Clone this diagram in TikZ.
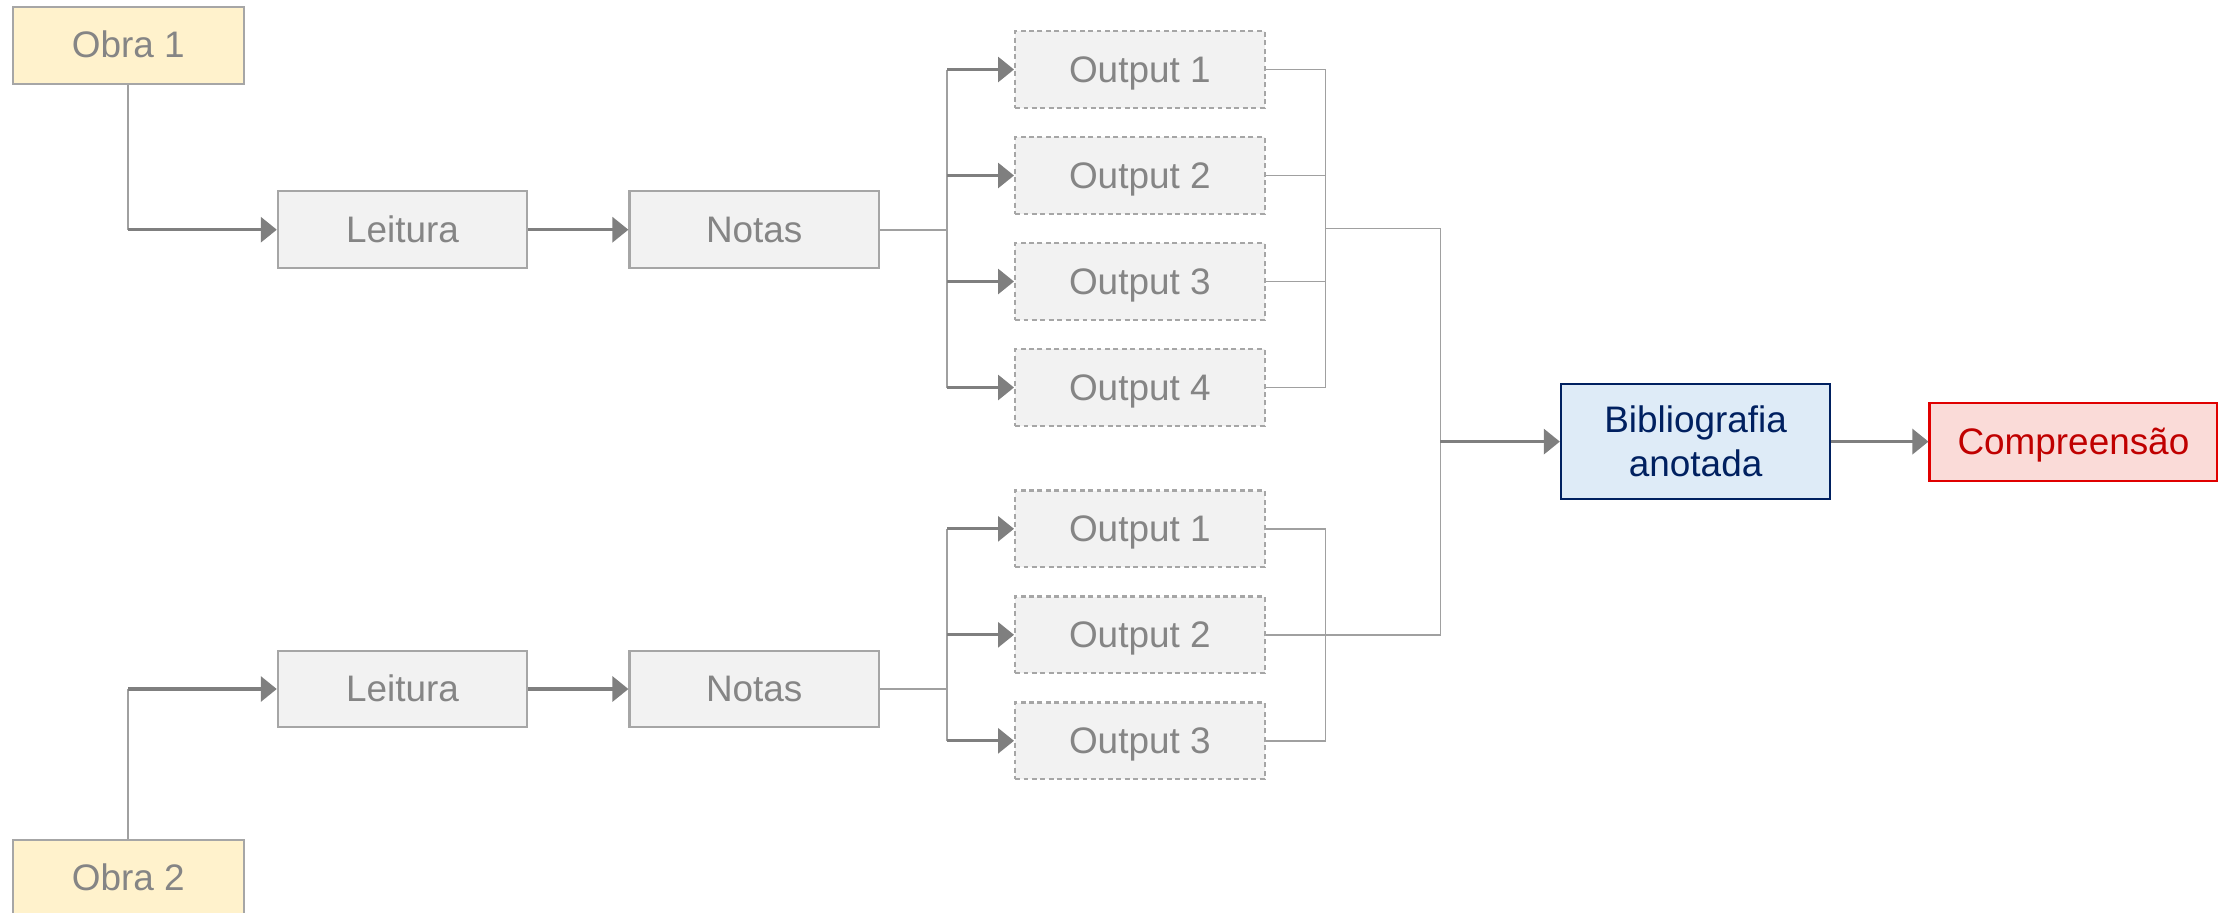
\documentclass[tikz,border=0pt]{standalone}
\usepackage{fontspec}
\setmainfont{Liberation Sans}
\usetikzlibrary{arrows.meta,positioning}
\definecolor{txtgray}{HTML}{858585}
\definecolor{boxgray}{HTML}{A6A6A6}
\definecolor{linegray}{HTML}{A0A0A0}
\definecolor{arrowgray}{HTML}{7F7F7F}
\definecolor{boxfill}{HTML}{F2F2F2}
\definecolor{obrafill}{HTML}{FFF2CC}
\definecolor{bibfill}{HTML}{DEEBF7}
\definecolor{bibnavy}{HTML}{002060}
\definecolor{compfill}{HTML}{FADBD8}
\definecolor{compred}{HTML}{E00000}
\definecolor{comptxt}{HTML}{C00000}

\begin{document}
\begin{tikzpicture}[node distance=1.06cm]
\tikzstyle{bx}=[rectangle, minimum width=2.495cm, minimum height=0.766cm, inner sep=0pt, text height=0.716em, text depth=0pt, draw=boxgray, fill=boxfill, text=txtgray, line width=0.6pt, font=\fontsize{10.5}{12.6}\selectfont]
\tikzstyle{obra}=[bx, minimum width=2.31cm, fill=obrafill]
\tikzstyle{outp}=[bx, dash pattern=on 1.4pt off 1pt]
\tikzstyle{seta}=[-{Triangle[length=0.16cm,width=0.25cm]}, line width=0.9pt, draw=arrowgray]
\tikzstyle{liga}=[line width=0.5pt, draw=linegray]
\useasboundingbox (0,0) rectangle (22.23,-9.12);

% obra 1
\node (obra1) [obra] at (1.283,-0.454) {Obra 1};
\node (leit1) [bx] at (4.026,-2.297) {Leitura};
\node (not1) [bx] at (7.542,-2.297) {Notas};
\node (o11) [outp] at (11.398,-0.695) {Output 1};
\node (o12) [outp, below of=o11] {Output 2};
\node (o13) [outp, below of=o12] {Output 3};
\node (o14) [outp, below of=o13] {Output 4};

% obra 2
\node (obra2) [obra] at (1.283,-8.783) {Obra 2};
\node (leit2) [bx] at (4.026,-6.89) {Leitura};
\node (not2) [bx] at (7.542,-6.89) {Notas};
\node (o21) [outp] at (11.398,-5.288) {Output 1};
\node (o22) [outp, below of=o21] {Output 2};
\node (o23) [outp, below of=o22] {Output 3};

\node (bib) [bx, text height=, text depth=, minimum width=2.694cm, minimum height=1.148cm, align=center, fill=bibfill, draw=bibnavy, text=bibnavy] at (16.956,-4.416) {Bibliografia\\anotada};
\node (comp) [bx, minimum width=2.878cm, minimum height=0.78cm, fill=compfill, draw=compred, text=comptxt] at (20.734,-4.416) {Compreens\~ao};

\coordinate (c1) at (obra1 |- leit1);
\coordinate (c2) at (obra2 |- leit2);
\coordinate (b1) at (9.47,-2.297);
\coordinate (b2) at (9.47,-6.89);
\coordinate (k1) at (13.255,-2.285);
\coordinate (k2) at (13.255,-6.348);
\coordinate (m) at (14.404,-4.416);

\draw[liga] (obra1.south) -- (c1);
\draw[seta] (c1) -- (leit1);
\draw[liga] (obra2.north) -- (c2);
\draw[seta] (c2) -- (leit2);
\draw[seta] (leit1) -- (not1);
\draw[seta] (leit2) -- (not2);

\draw[liga] (not1) -- (b1);
\draw[liga] (b1 |- o11) -- (b1 |- o14);
\draw[liga] (k1 |- o11) -- (k1 |- o14);
\foreach \i in {1,...,4} {
  \draw[seta] (b1 |- o1\i) -- (o1\i);
  \draw[liga] (o1\i) -- (k1 |- o1\i);
}
\draw[liga] (not2) -- (b2);
\draw[liga] (b2 |- o21) -- (b2 |- o23);
\draw[liga] (k2 |- o21) -- (k2 |- o23);
\foreach \i in {1,...,3} {
  \draw[seta] (b2 |- o2\i) -- (o2\i);
  \draw[liga] (o2\i) -- (k2 |- o2\i);
}

\draw[liga] (k1) -| (m);
\draw[liga] (k2) -| (m);
\draw[seta] (m) -- (bib);
\draw[seta] (bib) -- (comp);
\end{tikzpicture}
\end{document}
